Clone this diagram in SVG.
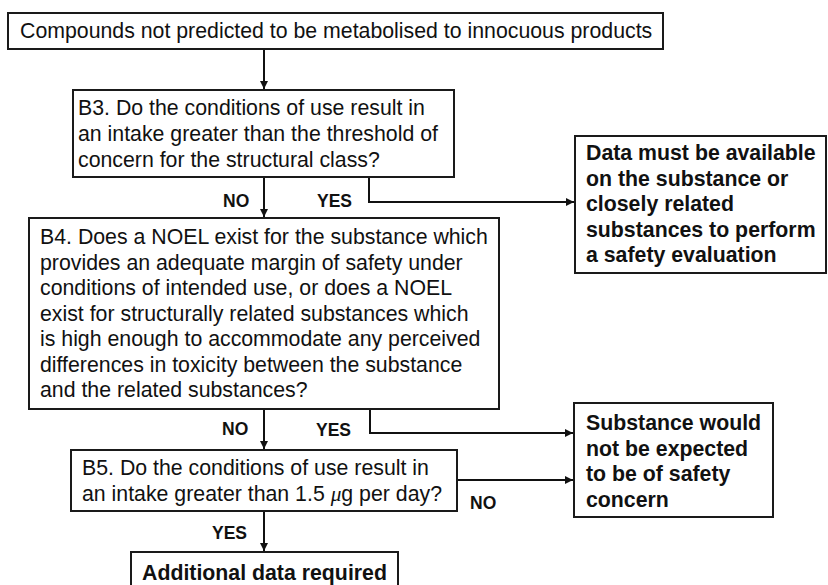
<svg xmlns="http://www.w3.org/2000/svg" width="828" height="585" viewBox="0 0 828 585">
<defs>
<marker id="ah" markerUnits="userSpaceOnUse" markerWidth="9" markerHeight="8" refX="8" refY="4" orient="auto">
<path d="M0,0 L8,4 L0,8 z" fill="#111"/>
</marker>
<style>
.box{fill:#fff;stroke:#1a1a1a;stroke-width:2}
.t{font-family:"Liberation Sans",Arial,sans-serif;font-size:21.3px;fill:#111}
.b{font-family:"Liberation Sans",Arial,sans-serif;font-size:21.3px;font-weight:bold;fill:#111}
.lbl{font-family:"Liberation Sans",Arial,sans-serif;font-size:17.5px;font-weight:bold;fill:#111}
.c{fill:none;stroke:#111;stroke-width:2}
.mu{font-family:"Liberation Serif",serif;font-style:italic}
</style>
</defs>
<rect width="828" height="585" fill="#fff"/>
<g id="connectors">
<path class="c" d="M264,49 V89" marker-end="url(#ah)"/>
<path class="c" d="M264,177 V217" marker-end="url(#ah)"/>
<path class="c" d="M369,177 V202 H574" marker-end="url(#ah)"/>
<path class="c" d="M264,409 V449" marker-end="url(#ah)"/>
<path class="c" d="M370,409 V433 H573" marker-end="url(#ah)"/>
<path class="c" d="M457,480 H573" marker-end="url(#ah)"/>
<path class="c" d="M264,511 V551" marker-end="url(#ah)"/>
<text class="lbl" x="223" y="207">NO</text>
<text class="lbl" x="317" y="207">YES</text>
<text class="lbl" x="222" y="435">NO</text>
<text class="lbl" x="316" y="436">YES</text>
<text class="lbl" x="470" y="509">NO</text>
<text class="lbl" x="212" y="539">YES</text>
</g>
<g id="start">
<rect class="box" x="8" y="13" width="655" height="36"/>
<text class="t" x="20" y="38">Compounds not predicted to be metabolised to innocuous products</text>
</g>
<g id="b3">
<rect class="box" x="73" y="90" width="381" height="87"/>
<text class="t" x="78" y="115">B3. Do the conditions of use result in</text>
<text class="t" x="78" y="141">an intake greater than the threshold of</text>
<text class="t" x="78" y="167">concern for the structural class?</text>
</g>
<g id="data">
<rect class="box" x="575" y="136" width="251" height="137"/>
<text class="b" x="586" y="160">Data must be available</text>
<text class="b" x="586" y="185.5">on the substance or</text>
<text class="b" x="586" y="211">closely related</text>
<text class="b" x="586" y="236.5">substances to perform</text>
<text class="b" x="586" y="262">a safety evaluation</text>
</g>
<g id="b4">
<rect class="box" x="29" y="218" width="470" height="191"/>
<text class="t" x="40" y="244">B4. Does a NOEL exist for the substance which</text>
<text class="t" x="40" y="269.5">provides an adequate margin of safety under</text>
<text class="t" x="40" y="295">conditions of intended use, or does a NOEL</text>
<text class="t" x="40" y="320.5">exist for structurally related substances which</text>
<text class="t" x="40" y="346">is high enough to accommodate any perceived</text>
<text class="t" x="40" y="371.5">differences in toxicity between the substance</text>
<text class="t" x="40" y="397">and the related substances?</text>
</g>
<g id="safe">
<rect class="box" x="574" y="403" width="199" height="114"/>
<text class="b" x="586" y="430">Substance would</text>
<text class="b" x="586" y="455.5">not be expected</text>
<text class="b" x="586" y="481">to be of safety</text>
<text class="b" x="586" y="506.5">concern</text>
</g>
<g id="b5">
<rect class="box" x="71" y="450" width="386" height="61"/>
<text class="t" x="82" y="475">B5. Do the conditions of use result in</text>
<text class="t" x="82" y="501">an intake greater than 1.5 <tspan class="mu">μ</tspan>g per day?</text>
</g>
<g id="additional">
<rect class="box" x="131" y="552" width="267" height="40"/>
<text class="b" x="142" y="580">Additional data required</text>
</g>
</svg>
